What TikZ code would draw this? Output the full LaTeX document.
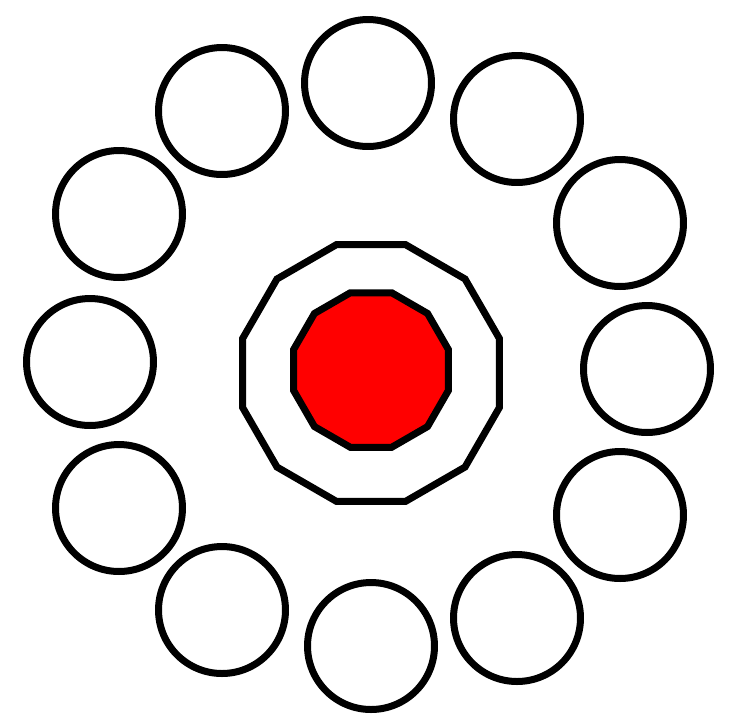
\documentclass[tikz,border=0pt]{standalone}
\usetikzlibrary{shapes.geometric}
\begin{document}
\begin{tikzpicture}[x=0.02cm, y=-0.02cm,
    ring/.style={circle, draw, line width=0.14cm, inner sep=0pt, minimum size=2.54cm},
    core/.style={regular polygon, regular polygon sides=12, draw, line width=0.14cm, inner sep=0pt}]
    \useasboundingbox (0,0) rectangle (733,725);
    \node[core, minimum size=5.32cm] (outer) at (371,373) {};
    \node[core, fill=red, minimum size=3.2cm] (inner) at (371,370) {};

    \foreach \n/\x/\y in {1/368/83, 2/517/119, 3/620/223, 4/647/369, 5/620/515, 6/517/618,
        7/371/646, 8/222/610, 9/119/508, 10/90/362, 11/119/214, 12/222/111}
        \node[ring] (c\n) at (\x,\y) {};
\end{tikzpicture}
\end{document}
